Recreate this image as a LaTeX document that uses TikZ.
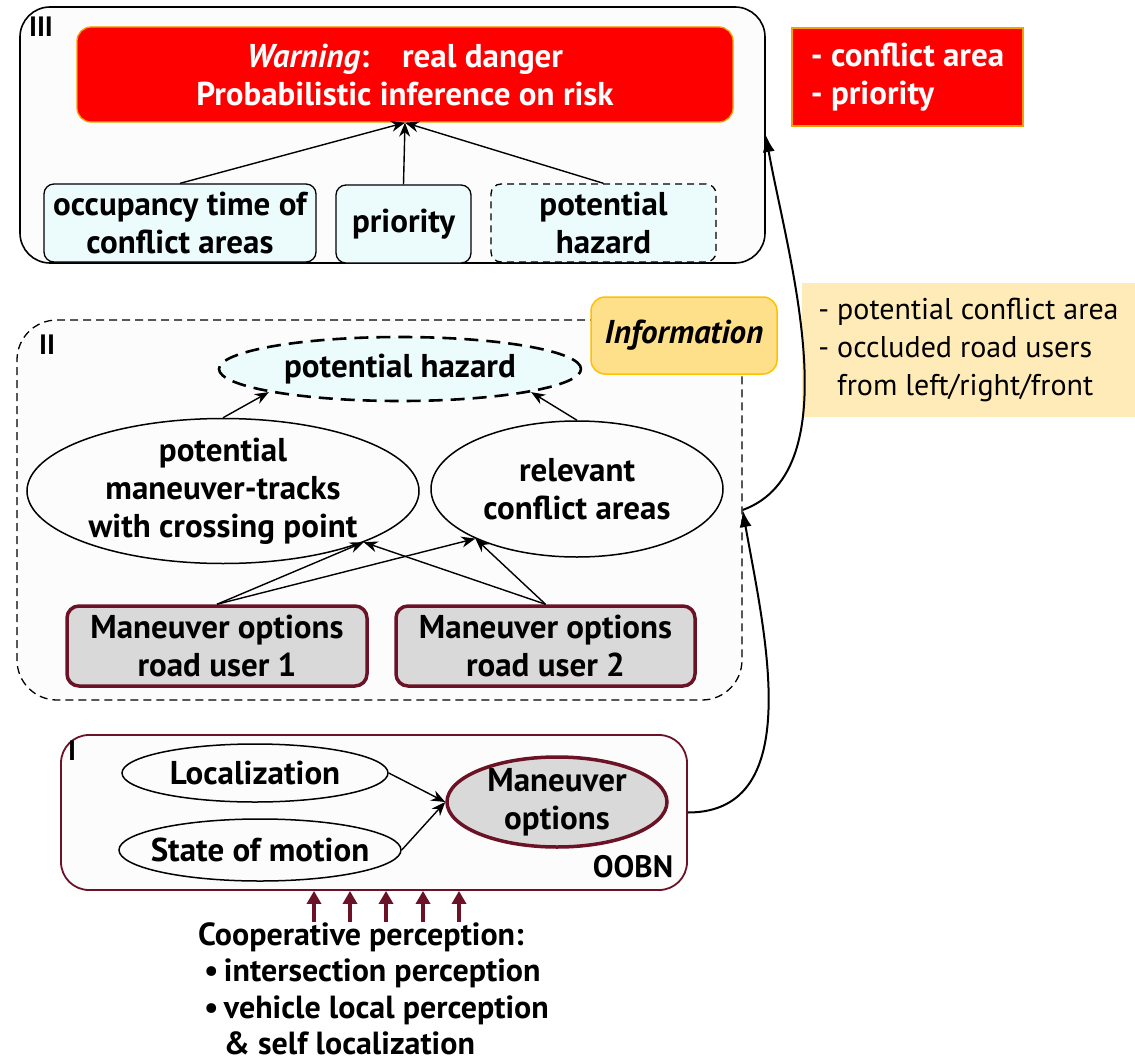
\documentclass[tikz,border=0pt]{standalone}
\usepackage{fontspec}
\setmainfont{PT Sans}
\usetikzlibrary{shapes.geometric,arrows.meta}
\definecolor{maroon}{HTML}{6B1226}
\definecolor{lightcyan}{HTML}{ECFCFD}
\definecolor{paleback}{HTML}{FCFCFC}
\definecolor{warnorange}{HTML}{F5A000}
\definecolor{infoyellow}{HTML}{FFE08A}
\definecolor{infoborder}{HTML}{FFC000}
\definecolor{notecream}{HTML}{FFEBB7}
\definecolor{optgray}{HTML}{D9D9D9}

\begin{document}
\begin{tikzpicture}[x=1pt,y=-1pt,
  txt/.style={font=\bfseries\fontsize{33}{38}\selectfont,align=center,inner sep=0pt},
  tag/.style={font=\bfseries\fontsize{28}{28}\selectfont,inner sep=0pt},
  layer/.style={draw,line width=1.6pt,fill=paleback,rounded corners=30pt,inner sep=0pt},
  cyanbox/.style={draw,line width=1.3pt,fill=lightcyan,rounded corners=10pt,txt},
  optbox/.style={draw=maroon,line width=3.5pt,fill=optgray,rounded corners=12pt,txt},
  ell/.style={ellipse,draw,line width=1.5pt,inner sep=0pt},
  arr/.style={-{Stealth[length=14pt,width=11pt]},line width=1.4pt},
  bigarr/.style={-{Latex[length=17pt,width=12pt]},line width=2pt},
  perc/.style={-{Triangle[length=13pt,width=14pt]},draw=maroon,line width=3.5pt}]
\useasboundingbox (0,0) rectangle (1135,1062);

\node[layer,minimum width=745pt,minimum height=256pt] (boxIII) at (392.5,135) {};
\node[tag] (lIII) at (41,27) {III};
\node[txt,draw=warnorange,fill=red,text=white,line width=1.3pt,rounded corners=14pt,minimum width=656pt,minimum height=95pt] (warn) at (405,74.5) {\textit{Warning}:\quad real danger\\Probabilistic inference on risk};
\node[cyanbox,minimum width=272pt,minimum height=78pt] (occ) at (180,223) {occupancy time of\\conflict areas};
\node[cyanbox,minimum width=135pt,minimum height=78pt] (prio) at (403.5,224) {priority};
\node[cyanbox,dash pattern=on 7pt off 5pt,minimum width=225pt,minimum height=78pt] (hazIII) at (603.5,223) {potential\\hazard};
\draw[arr] (occ.north) -- (warn.south);
\draw[arr] (prio.north) -- (warn.south);
\draw[arr] (hazIII.north) -- (warn.south);

\node[txt,draw=warnorange,fill=red,text=white,line width=1.3pt,align=left,minimum width=231pt,minimum height=98pt] (cfl) at (907.5,77) {- conflict area\\- priority};

\node[layer,dash pattern=on 8pt off 5pt,line width=1.3pt,rounded corners=40pt,minimum width=725pt,minimum height=380pt] (boxII) at (379.5,510) {};
\node[tag] (lII) at (47,345) {II};
\node[txt,font=\bfseries\itshape\fontsize{33}{38}\selectfont,draw=infoborder,fill=infoyellow,line width=1.5pt,rounded corners=14pt,minimum width=186pt,minimum height=77pt] (info) at (684,335.5) {Information};
\node[fill=notecream,align=left,inner sep=0pt,font=\fontsize{30}{38}\selectfont,minimum width=333pt,minimum height=134pt] (note) at (968.5,350) {- potential conflict area\\- occluded road users\\\phantom{- }from left/right/front};

\node[ell,fill=lightcyan,dash pattern=on 14pt off 8pt,line width=2.6pt,minimum width=362pt,minimum height=64pt] (hazard) at (400,369) {};
\node[txt] (hazardtxt) at (hazard) {potential hazard};
\node[ell,minimum width=392pt,minimum height=145pt] (tracks) at (223,491) {};
\node[txt] (trackstxt) at (tracks) {potential\\maneuver-tracks\\with crossing point};
\node[ell,minimum width=292pt,minimum height=136pt] (conflict) at (577,489) {};
\node[txt] (conflicttxt) at (conflict) {relevant\\conflict areas};
\node[optbox,minimum width=300pt,minimum height=80pt] (ru1) at (217,646) {Maneuver options\\road user 1};
\node[optbox,minimum width=299pt,minimum height=80pt] (ru2) at (545.5,646) {Maneuver options\\road user 2};
\draw[arr] (tracks.north) -- (hazard.190);
\draw[arr] (conflict.north) -- (hazard.-10);
\draw[arr] (ru1.north) -- (tracks.-20);
\draw[arr] (ru1.north) -- (conflict.206);
\draw[arr] (ru2.north) -- (tracks.-20);
\draw[arr] (ru2.north) -- (conflict.206);

\node[layer,draw=maroon,line width=1.8pt,rounded corners=28pt,minimum width=626pt,minimum height=155pt] (boxI) at (374,812.5) {};
\node[tag] (lI) at (72,751) {I};
\node[tag,font=\bfseries\fontsize{31}{31}\selectfont] (oobn) at (633,867) {OOBN};
\node[ell,minimum width=266pt,minimum height=58pt] (loc) at (255,773) {};
\node[txt] (loctxt) at (loc) {Localization};
\node[ell,minimum width=282pt,minimum height=62pt] (som) at (260,850) {};
\node[txt] (somtxt) at (som) {State of motion};
\node[ell,draw=maroon,fill=optgray,line width=3.5pt,minimum width=220pt,minimum height=90pt] (man) at (557,802) {};
\node[txt] (mantxt) at (man) {Maneuver\\options};
\draw[arr] (loc.east) -- (man.west);
\draw[arr] (som.east) -- (man.west);

\foreach \x [count=\i] in {314,350,386,423,459} {
  \coordinate (p\i) at (\x,922);
  \draw[perc] (p\i) -- (p\i |- boxI.south);
}
\node[txt,font=\bfseries\fontsize{32}{36.5}\selectfont,align=left,anchor=north west] (coop) at (198,922) {Cooperative perception:\\\hspace*{6pt}\textbullet\,intersection perception\\\hspace*{6pt}\textbullet\,vehicle local perception\\\hspace*{6pt}\phantom{\textbullet\,}\& self localization};

\draw[bigarr] (boxI.east) to[out=0,in=-80] (boxII.east);
\draw[bigarr] (boxII.east) to[out=20,in=-80,looseness=0.8] (boxIII.east);
\end{tikzpicture}
\end{document}
